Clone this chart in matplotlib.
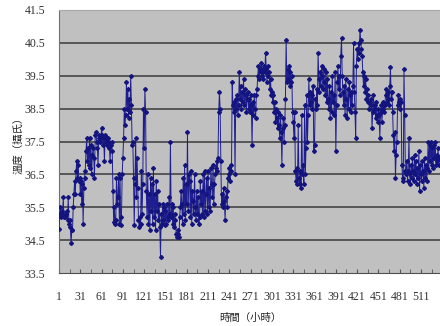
import matplotlib
matplotlib.use("Agg")
import matplotlib.pyplot as plt
import numpy as np

temps = [
    34.85, 35.3, 35.5, 35.2, 35.4, 35.3, 35.8, 35.2, 35.3, 35.2,
    35.3, 35.4, 35.1, 35.8, 35.0, 35.1, 34.9, 34.4, 34.8, 34.8,
    35.5, 35.9, 36.3, 35.9, 36.6, 36.9, 36.4, 36.8, 36.3, 36.4,
    35.9, 36.3, 35.6, 36.2, 35.0, 36.1, 36.4, 36.6, 37.2, 37.6,
    36.9, 37.3, 36.8, 37.6, 36.7, 37.4, 36.5, 37.1, 37.3, 37.0,
    36.4, 37.7, 37.8, 37.5, 37.3, 36.8, 37.6, 37.7, 37.5, 37.6,
    37.9, 37.7, 37.4, 37.6, 36.9, 37.7, 37.5, 37.6, 37.4, 37.6,
    37.5, 37.3, 36.9, 37.4, 37.5, 37.2, 36.0, 35.05, 35.5, 35.0,
    35.1, 36.4, 35.6, 35.8, 36.5, 35.0, 36.4, 34.95, 35.2, 36.5,
    37.0, 37.6, 38.5, 38.0, 38.3, 39.3, 38.5, 39.1, 38.2, 38.8,
    38.4, 39.5, 38.6, 37.4, 37.5, 36.4, 34.95, 36.2, 37.6, 35.8,
    37.0, 36.1, 35.1, 34.9, 35.2, 35.0, 36.6, 35.3, 36.2, 38.5,
    37.3, 39.1, 38.4, 36.0, 35.2, 36.5, 35.0, 35.9, 34.8, 36.4,
    35.4, 36.2, 35.0, 36.7, 35.2, 35.9, 34.8, 36.3, 35.4, 36.0,
    35.1, 35.6, 34.9, 34.0, 35.3, 35.0, 35.6, 35.1, 35.5, 34.95,
    35.4, 35.0, 35.6, 35.2, 35.1, 35.8, 35.3, 37.5, 35.2, 35.6,
    35.0, 35.5, 34.9, 35.3, 35.1, 34.7, 34.6, 34.7, 34.8, 34.6,
    35.2, 35.5, 36.0, 35.6, 35.0, 36.4, 35.3, 36.8, 35.1, 36.2,
    35.6, 37.8, 35.4, 36.5, 36.3, 35.2, 36.6, 35.0, 36.0, 35.7,
    35.3, 36.5, 35.5, 35.1, 36.0, 35.3, 35.8, 35.0, 35.2, 36.3,
    35.6, 36.0, 35.3, 36.5, 35.2, 36.6, 35.4, 35.9, 36.4, 35.3,
    36.6, 35.5, 36.1, 35.4, 36.7, 36.2, 35.8, 36.8, 35.6, 36.2,
    36.5, 36.7, 36.9, 36.6, 37.0, 38.4, 39.0, 38.5, 36.9, 35.6,
    35.9, 35.5, 36.1, 35.7, 35.1, 35.8, 36.0, 35.5, 36.4, 36.5,
    36.7, 36.3, 36.8, 36.6, 39.3, 38.6, 38.4, 38.7, 36.5, 38.8,
    38.5, 38.9, 38.3, 38.6, 39.6, 38.8, 39.2, 38.5, 39.0, 38.7,
    39.4, 38.6, 39.1, 38.9, 38.4, 38.8, 39.0, 38.5, 38.8, 38.4,
    38.9, 38.6, 37.4, 38.7, 38.3, 38.9, 38.5, 38.2, 38.9, 39.1,
    39.5, 39.8, 39.4, 39.7, 39.6, 39.9, 39.5, 39.7, 39.4, 39.8,
    39.6, 40.2, 39.7, 39.3, 39.8, 39.5, 39.6, 39.1, 39.4, 38.9,
    39.0, 38.7, 38.9, 38.4, 38.7, 38.1, 38.5, 38.2, 37.9, 38.4,
    38.0, 37.6, 38.3, 37.8, 36.8, 37.9, 38.2, 37.5, 38.0, 38.8,
    40.6, 39.3, 39.7, 39.4, 39.8, 39.2, 39.6, 39.3, 39.5, 38.4,
    38.1, 37.6, 38.4, 36.6, 36.3, 36.7, 36.2, 38.0, 36.4, 36.2,
    36.6, 36.1, 38.3, 36.5, 36.8, 36.2, 38.6, 36.5, 37.3, 38.9,
    37.5, 38.3, 39.4, 38.6, 39.0, 38.7, 38.9, 38.5, 39.2, 37.2,
    37.4, 38.8, 38.5, 39.1, 38.6, 40.2, 39.4, 39.0, 39.6, 39.2,
    39.8, 39.5, 39.1, 39.7, 39.3, 38.9, 39.6, 38.7, 39.4, 38.8,
    38.5, 39.2, 38.2, 39.0, 38.4, 39.5, 38.7, 38.9, 38.3, 39.6,
    37.2, 38.6, 39.3, 39.8, 39.1, 39.5, 38.9, 40.1, 40.65, 39.5,
    39.0, 38.6, 39.2, 38.3, 39.4, 38.8, 38.2, 39.1, 38.5, 39.3,
    38.9, 38.4, 39.0, 38.6, 39.2, 40.5, 39.0, 38.4, 37.6, 39.8,
    40.3, 40.0, 40.5, 40.2, 40.9, 40.6, 40.3, 40.1, 39.6, 39.2,
    39.5, 39.0, 39.4, 38.8, 39.1, 38.7, 38.9, 38.5, 38.7, 38.6,
    38.8, 37.9, 38.4, 38.9, 38.5, 38.6, 38.2, 38.7, 38.3, 38.1,
    38.5, 38.3, 37.6, 38.4, 38.6, 38.1, 38.5, 38.7, 38.4, 38.6,
    38.9, 39.1, 38.7, 38.8, 39.0, 38.6, 39.2, 39.76, 38.8, 39.0,
    38.4, 37.7, 37.2, 37.8, 36.4, 37.1, 37.5, 38.6, 38.9, 38.7,
    38.8, 38.5, 38.7, 36.8, 36.4, 36.3, 39.7, 38.3, 36.6, 36.5,
    36.9, 36.3, 36.6, 37.6, 36.5, 36.2, 36.8, 36.4, 37.0, 36.6,
    36.3, 37.1, 36.5, 36.9, 36.2, 36.7, 36.4, 37.2, 36.0, 36.8,
    36.5, 36.3, 36.9, 36.6, 36.1, 37.0, 36.4, 36.8, 36.3, 36.7,
    37.5, 36.6, 37.4, 36.9, 37.5, 36.8, 37.3, 36.7, 37.4, 37.0,
    37.5, 36.8, 37.1, 36.9, 37.3, 36.8, 37.0,
]
hours = list(range(1, len(temps) + 1))

x_labels = list(range(1, 512, 30))
y_ticks = [33.5, 34.5, 35.5, 36.5, 37.5, 38.5, 39.5, 40.5, 41.5]

W, H = 440, 326
fig = plt.figure(figsize=(W / 100, H / 100), dpi=100)
left, right, top, bottom = 59, 440, 10, 273
ax = fig.add_axes([left / W, 1 - bottom / H, (right - left) / W, (bottom - top) / H])
ax.set_facecolor("#C0C0C0")

px_per_pt = (421 - 59) / 510.0
ax.set_xlim(1, 1 + (right - left) / px_per_pt)
ax.set_ylim(33.5, 41.5)

for g in y_ticks[1:-1]:
    ax.axhline(g, color="#3a3a3a", lw=1.1, zorder=1)

ax.plot(hours, temps, color="#1e1e90", lw=0.7, marker="D", ms=2.0,
        mfc="#14147f", mec="#14147f", zorder=3)

ax.set_yticks(y_ticks)
ax.set_yticklabels([f"{v:.1f}" for v in y_ticks], family="Liberation Serif",
                   fontsize=8.5, color="#333333")
ax.set_xticks(x_labels)
ax.set_xticklabels([str(v) for v in x_labels], family="Liberation Serif",
                   fontsize=8.5, color="#333333")
ax.set_xticks(list(range(1, 538, 15)), minor=True)
ax.tick_params(axis="x", which="major", direction="in", length=3, pad=13, color="#555555")
ax.tick_params(axis="x", which="minor", direction="in", length=3, color="#555555")
ax.tick_params(axis="y", direction="out", length=0, pad=10)

ax.spines["right"].set_visible(False)
ax.spines["top"].set_color("#a8a8a8")
ax.spines["left"].set_color("#707070")
ax.spines["bottom"].set_color("#505050")

cjk = ["Noto Sans CJK TC", "DejaVu Sans"]
fig.text(250 / W, 1 - 318 / H, "時間（小時）", family=cjk, fontsize=7.5,
         ha="center", va="center", color="#222222")
fig.text(18 / W, 1 - 143 / H, "溫度（攝氏）", family=cjk, fontsize=7.5,
         ha="center", va="center", rotation=90, color="#222222")

fig.savefig("out.png", dpi=100)
